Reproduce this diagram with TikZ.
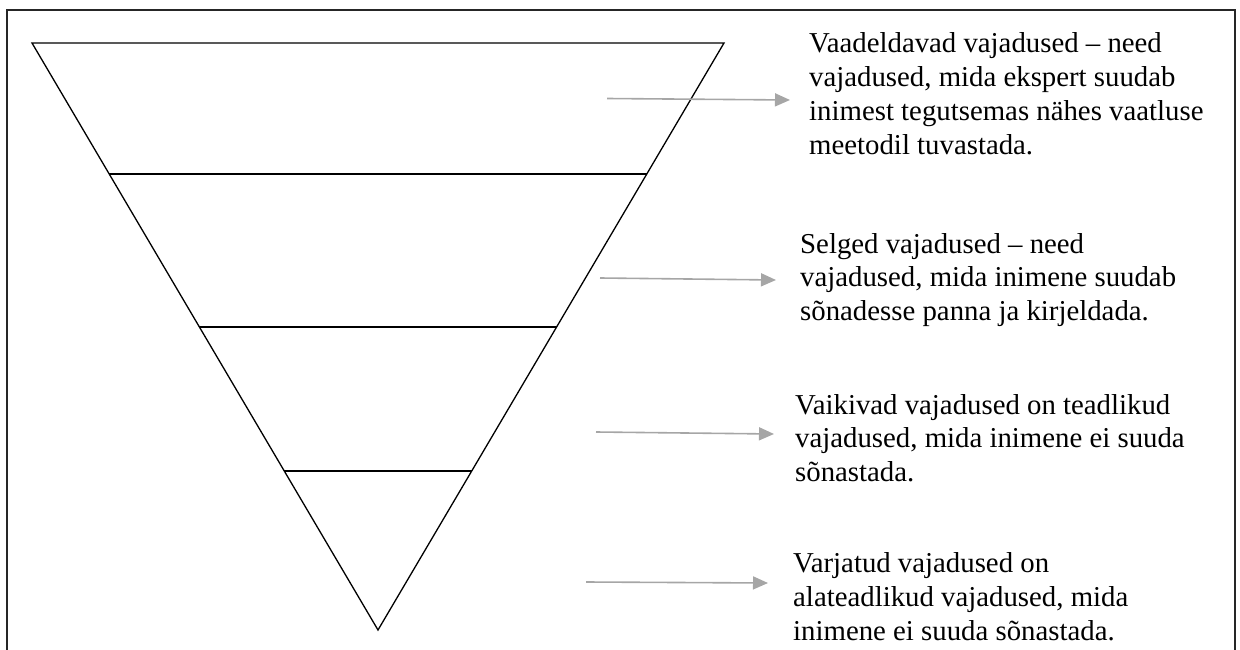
\documentclass[tikz,border=0pt]{standalone}
\usepackage{fontspec}
\setmainfont{Liberation Serif}
\usetikzlibrary{calc,arrows.meta}
\begin{document}
\begin{tikzpicture}[x=1pt,y=-1pt,
  level/.style={line width=1.3pt,black},
  pointer/.style={draw={rgb,255:red,166;green,166;blue,166},line width=1.6pt,
    -{Triangle[length=15pt,width=13pt,fill={rgb,255:red,166;green,166;blue,166}]}},
  note/.style={anchor=base west,align=left,inner sep=0pt,
    font=\fontsize{28.8}{33.7}\selectfont}]
\useasboundingbox (0,0) rectangle (1240,650);

% open frame (bottom edge falls outside the page)
\draw[line width=2pt,black!85] (7,652) -- (7,10) -- (1235,10) -- (1235,652);

% inverted triangle
\coordinate (TL) at (32,43);
\coordinate (TR) at (724,43);
\coordinate (B) at (378,630);
\draw[level,line join=miter] (TL) -- (TR) -- (B) -- cycle;

% level dividers
\foreach \n/\y in {1/174,2/327,3/471}{
  \pgfmathsetmacro{\t}{(\y-43)/587}
  \coordinate (L\n) at ($(TL)!\t!(B)$);
  \coordinate (R\n) at ($(TR)!\t!(B)$);
  \draw[level] (L\n) -- (R\n);
}

% pointers
\coordinate (a1s) at (607,98.5);  \coordinate (a1e) at (790,100);
\coordinate (a2s) at (600,278);   \coordinate (a2e) at (776,280);
\coordinate (a3s) at (596,432);   \coordinate (a3e) at (774,434);
\coordinate (a4s) at (586,582);   \coordinate (a4e) at (768,583);
\foreach \i in {1,...,4}{\draw[pointer] (a\i s) -- (a\i e);}

% descriptions (anchored at the baseline of the last line)
\node[note] (t1) at (809,154) {Vaadeldavad vajadused – need\\vajadused, mida ekspert suudab\\inimest tegutsemas nähes vaatluse\\meetodil tuvastada.};
\node[note] (t2) at (800,320.4) {Selged vajadused – need\\vajadused, mida inimene suudab\\sõnadesse panna ja kirjeldada.};
\node[note] (t3) at (795,481.4) {Vaikivad vajadused on teadlikud\\vajadused, mida inimene ei suuda\\sõnastada.};
\node[note] (t4) at (793,640) {Varjatud vajadused on\\alateadlikud vajadused, mida\\inimene ei suuda sõnastada.};
\end{tikzpicture}
\end{document}
